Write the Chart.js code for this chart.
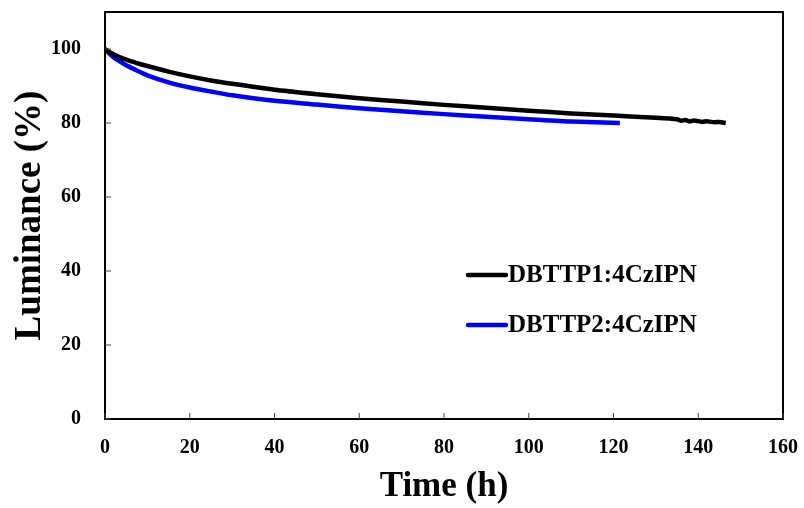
<!DOCTYPE html>
<html>
<head>
<meta charset="utf-8">
<script src="https://cdn.jsdelivr.net/npm/chart.js@4"></script>
<style>
  html, body { margin: 0; padding: 0; background: #fff; }
  #wrap { width: 804px; height: 508px; }
</style>
</head>
<body>
<div id="wrap"><canvas id="linechart"></canvas></div>
<script>
// DBTTP1:4CzIPN (black)
var time1 = [0, 1, 2, 3, 5, 7.5, 10, 15, 20, 25, 30, 40, 50, 60, 70, 80, 90, 100, 110, 120, 130, 135, 136, 137, 138, 139, 140, 141, 142, 143, 144, 145, 146.5];
var lum1  = [100, 99.2, 98.6, 98.0, 97.1, 96.2, 95.4, 93.9, 92.6, 91.5, 90.6, 89.0, 87.8, 86.7, 85.8, 84.9, 84.1, 83.3, 82.6, 82.0, 81.4, 81.0, 80.6, 80.8, 80.4, 80.7, 80.5, 80.3, 80.5, 80.3, 80.2, 80.3, 80.0];

// DBTTP2:4CzIPN (blue)
var time2 = [0, 1, 2, 3, 5, 7.5, 10, 15, 20, 25, 30, 40, 50, 60, 70, 80, 90, 100, 110, 121.5];
var lum2  = [100, 98.8, 97.8, 97.0, 95.6, 94.2, 92.9, 91.0, 89.6, 88.5, 87.5, 86.0, 85.0, 84.0, 83.2, 82.4, 81.7, 81.0, 80.4, 80.0];

var seriesNames = ['DBTTP1:4CzIPN', 'DBTTP2:4CzIPN'];
var xTicks = [0, 20, 40, 60, 80, 100, 120, 140, 160];
var yTicks = [0, 20, 40, 60, 80, 100];

function toPoints(xs, ys) {
  return xs.map(function (x, i) { return { x: x, y: ys[i] }; });
}

var serif = '"Liberation Serif", "Times New Roman", serif';

// box around plot + inward tick marks + legend inside the plot
var framePlugin = {
  id: 'frame',
  afterDatasetsDraw: function (chart) {
    var ctx = chart.ctx;
    var a = chart.chartArea;
    var xs = chart.scales.x, ys = chart.scales.y;
    ctx.save();
    ctx.strokeStyle = '#000';
    ctx.lineWidth = 2;
    ctx.strokeRect(a.left, a.top, a.right - a.left, a.bottom - a.top);
    ctx.lineWidth = 1;
    ctx.strokeStyle = '#444';
    xTicks.forEach(function (v) {
      var px = xs.getPixelForValue(v);
      ctx.beginPath(); ctx.moveTo(px, a.bottom); ctx.lineTo(px, a.bottom - 6); ctx.stroke();
    });
    yTicks.forEach(function (v) {
      var py = ys.getPixelForValue(v);
      ctx.beginPath(); ctx.moveTo(a.left, py); ctx.lineTo(a.left + 6, py); ctx.stroke();
    });

    // legend
    ctx.font = 'bold 25px ' + serif;
    ctx.textBaseline = 'middle';
    ctx.fillStyle = '#000';
    chart.data.datasets.forEach(function (ds, i) {
      var lx = a.left + 363, ly = a.top + 263 + i * 50;
      ctx.strokeStyle = ds.borderColor;
      ctx.lineWidth = 4.5;
      ctx.lineCap = 'round';
      ctx.beginPath(); ctx.moveTo(lx, ly); ctx.lineTo(lx + 38, ly); ctx.stroke();
      ctx.fillText(ds.label, lx + 40, ly + 1);
    });
    ctx.restore();
  }
};

var data = {
  datasets: [{
    label: seriesNames[0],
    data: toPoints(time1, lum1),
    borderColor: '#000000',
    borderWidth: 4.5,
    pointRadius: 0,
    tension: 0.2,
    fill: false
  }, {
    label: seriesNames[1],
    data: toPoints(time2, lum2),
    borderColor: '#0000ff',
    borderWidth: 4.5,
    pointRadius: 0,
    tension: 0.3,
    fill: false
  }]
};

var config = {
  type: 'line',
  data: data,
  options: {
    responsive: true,
    maintainAspectRatio: false,
    animation: false,
    layout: { padding: { top: 12, right: 21, bottom: 0, left: 0 } },
    plugins: {
      legend: { display: false },
      tooltip: { enabled: false }
    },
    scales: {
      x: {
        type: 'linear',
        min: 0,
        max: 160,
        afterBuildTicks: function (s) { s.ticks = xTicks.map(function (v) { return { value: v }; }); },
        afterFit: function (s) { s.height = 89; s.paddingLeft = 0; s.paddingRight = 0; },
        grid: { display: false, drawTicks: false },
        border: { display: false },
        ticks: { color: '#000', padding: 17, maxRotation: 0, font: { family: serif, size: 20, weight: 'bold' } },
        title: {
          display: true,
          text: 'Time (h)',
          color: '#000',
          padding: 0,
          font: { family: serif, size: 35, weight: 'bold' }
        }
      },
      y: {
        min: 0,
        max: 110,
        afterBuildTicks: function (s) { s.ticks = yTicks.map(function (v) { return { value: v }; }); },
        afterFit: function (s) { s.width = 105; s.paddingTop = 0; s.paddingBottom = 0; },
        grid: { display: false, drawTicks: false },
        border: { display: false },
        ticks: { color: '#000', padding: 24, font: { family: serif, size: 20, weight: 'bold' } },
        title: {
          display: true,
          text: 'Luminance (%)',
          color: '#000',
          padding: { top: 8, bottom: 0 },
          font: { family: serif, size: 37, weight: 'bold' }
        }
      }
    }
  },
  plugins: [framePlugin]
};

var linechart = new Chart(document.getElementById('linechart'), config);
</script>
</body>
</html>
